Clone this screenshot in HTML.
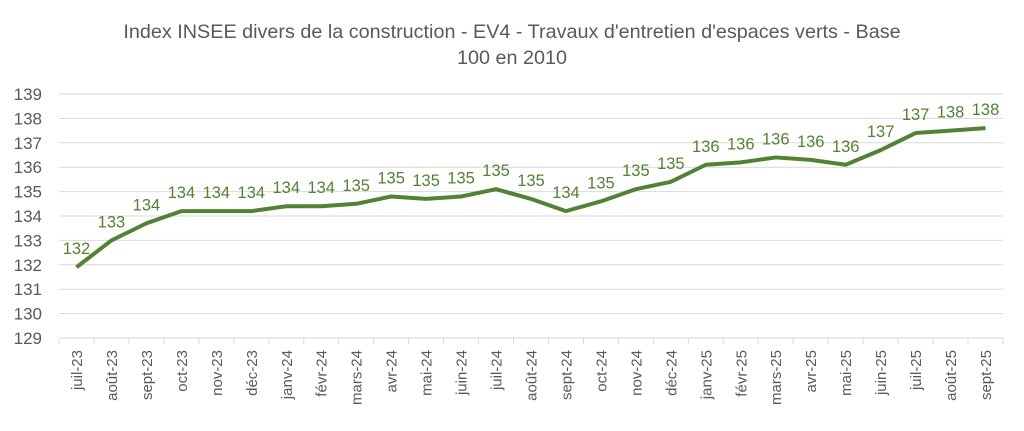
<!DOCTYPE html>
<html><head><meta charset="utf-8"><style>body{margin:0;background:#fff}</style></head><body>
<svg width="1024" height="426" xmlns="http://www.w3.org/2000/svg" font-family="Liberation Sans, sans-serif">
<rect width="1024" height="426" fill="#fff"/>
<text x="512" y="38" text-anchor="middle" font-size="19.8" fill="#595959">Index INSEE divers de la construction - EV4 - Travaux d'entretien d'espaces verts - Base</text>
<text x="512" y="64" text-anchor="middle" font-size="19.8" fill="#595959">100 en 2010</text>
<g id="grid" stroke="#d9d9d9" stroke-width="1"></g>
<g id="ylab" font-size="17" fill="#595959" text-anchor="end"></g>
<g id="xt" stroke="#d9d9d9"></g>
<g id="xl" font-size="15" fill="#595959" text-anchor="end"></g>
<polyline id="ln" fill="none" stroke="#548235" stroke-width="4" stroke-linejoin="round"/>
<g id="dl" font-size="16.5" fill="#548235" text-anchor="middle"></g>
</svg>
<script>
var ns="http://www.w3.org/2000/svg";
function el(p,t,a,txt){var e=document.createElementNS(ns,t);for(var k in a)e.setAttribute(k,a[k]);if(txt)e.textContent=txt;document.getElementById(p).appendChild(e);return e;}
function Y(v){return 338-(v-129)*24.4;}
for(var v=129;v<=139;v++){el('grid','line',{x1:59,x2:1003,y1:Y(v),y2:Y(v)});el('ylab','text',{x:42,y:Y(v)+6},String(v));}
var cats=["juil-23","août-23","sept-23","oct-23","nov-23","déc-23","janv-24","févr-24","mars-24","avr-24","mai-24","juin-24","juil-24","août-24","sept-24","oct-24","nov-24","déc-24","janv-25","févr-25","mars-25","avr-25","mai-25","juin-25","juil-25","août-25","sept-25"];
var vals=[131.9,133.0,133.7,134.2,134.2,134.2,134.4,134.4,134.5,134.8,134.7,134.8,135.1,134.7,134.2,134.6,135.1,135.4,136.1,136.2,136.4,136.3,136.1,136.7,137.4,137.5,137.6];
var w=944/27,pts=[];
for(var i=0;i<=27;i++){el('xt','line',{x1:59+i*w,x2:59+i*w,y1:338,y2:344});}
for(var i=0;i<27;i++){var x=59+w*(i+0.5);pts.push(x+","+Y(vals[i]));
el('xl','text',{transform:"translate("+(x+5.5)+",350) rotate(-90)"},cats[i]);
el('dl','text',{x:x,y:Y(vals[i])-13},String(Math.round(vals[i])));}
document.getElementById('ln').setAttribute('points',pts.join(' '));
</script>
</body></html>
